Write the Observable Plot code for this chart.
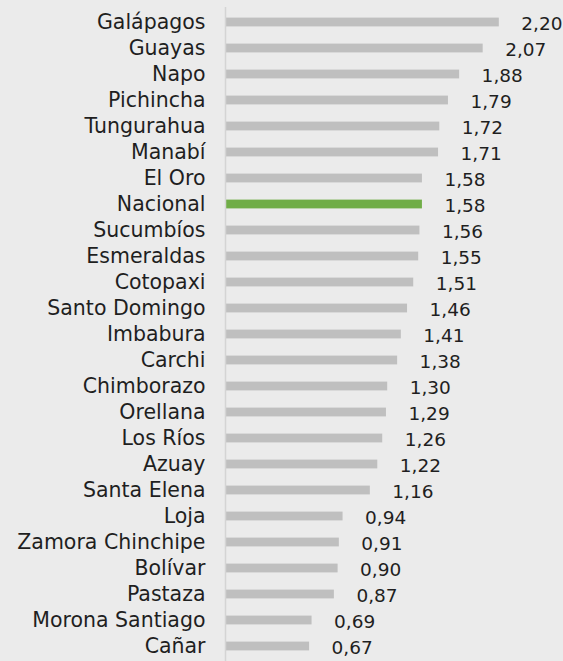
<!DOCTYPE html>
<html>
<head>
<meta charset="utf-8">
<script src="https://cdn.jsdelivr.net/npm/d3@7"></script>
<script src="https://cdn.jsdelivr.net/npm/@observablehq/plot@0.6"></script>
<style>
  html, body { margin: 0; padding: 0; background: #ebebeb; }
  #chart { width: 563px; height: 661px; }
</style>
</head>
<body>
<div id="chart"></div>
<script>
const provinces = ["Galápagos","Guayas","Napo","Pichincha","Tungurahua","Manabí","El Oro","Nacional","Sucumbíos","Esmeraldas","Cotopaxi","Santo Domingo","Imbabura","Carchi","Chimborazo","Orellana","Los Ríos","Azuay","Santa Elena","Loja","Zamora Chinchipe","Bolívar","Pastaza","Morona Santiago","Cañar"];
const values = [2.20,2.07,1.88,1.79,1.72,1.71,1.58,1.58,1.56,1.55,1.51,1.46,1.41,1.38,1.30,1.29,1.26,1.22,1.16,0.94,0.91,0.90,0.87,0.69,0.67];
const highlight = "Nacional";

const data = provinces.map((p, i) => ({province: p, value: values[i]}));
const fmt = v => v.toFixed(2).replace(".", ",");
const font = "'DejaVu Sans', sans-serif";

const chart = Plot.plot({
  width: 563,
  height: 661,
  marginLeft: 226,
  marginRight: 27,
  marginTop: 7,
  marginBottom: 0,
  style: {background: "#ebebeb", fontFamily: font, fontSize: "20.5px", color: "#1f1f1f"},
  x: {domain: [0, 2.5], axis: null},
  y: {domain: provinces, padding: 0, label: null},
  marks: [
    Plot.barX(data, {
      x: "value", y: "province", insetTop: 8.6, insetBottom: 8.6,
      fill: d => d.province === highlight ? "#70ad47" : "#bfbfbf"
    }),
    Plot.ruleX([0], {stroke: "#d4d4d4", strokeWidth: 1.5, dx: -1}),
    Plot.axisY({tickSize: 0, tickPadding: 21, fontSize: 20.5, fill: "#1f1f1f", label: null}),
    Plot.text(data, {
      x: "value", y: "province", text: d => fmt(d.value),
      textAnchor: "start", dx: 22, dy: 1.5, fontSize: 18.5, fill: "#1f1f1f"
    })
  ]
});
document.getElementById("chart").appendChild(chart);
</script>
</body>
</html>
